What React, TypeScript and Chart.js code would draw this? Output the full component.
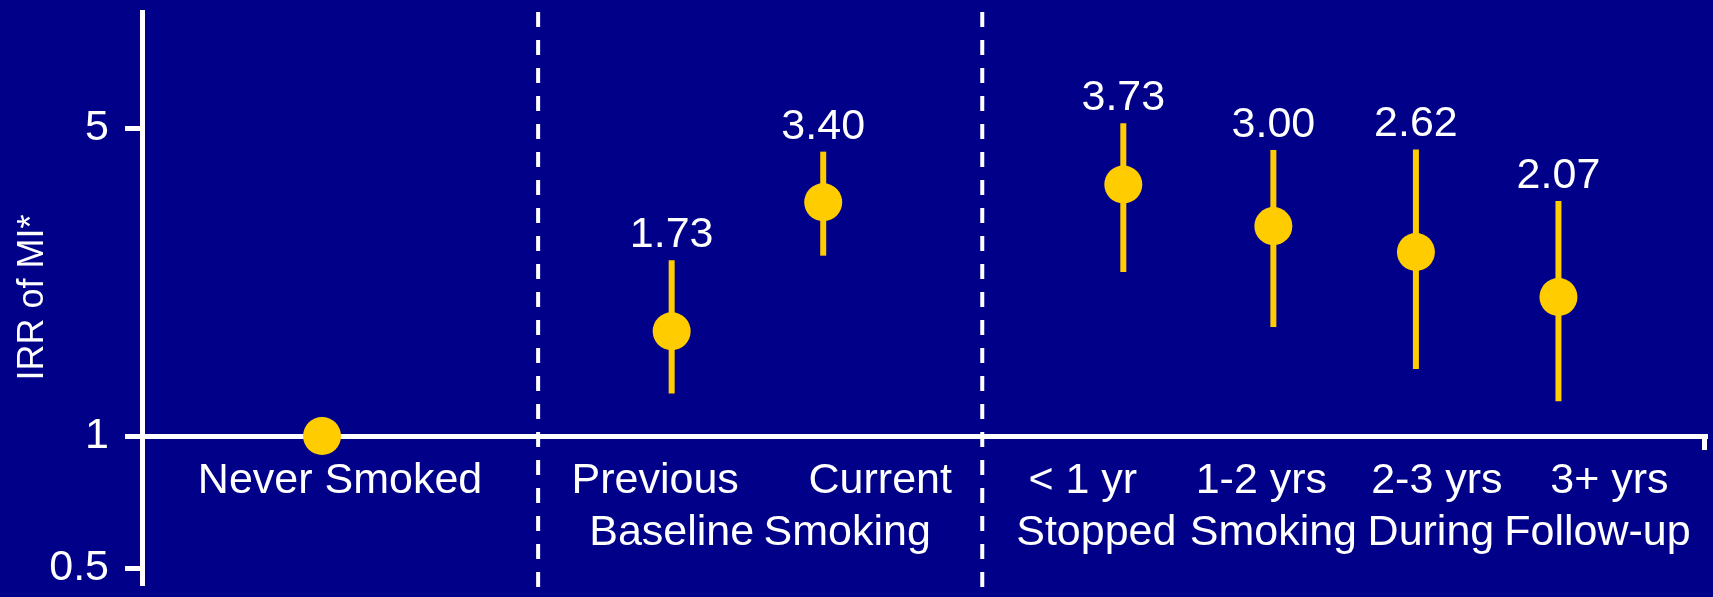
import React, { useEffect, useRef } from "react";
import { Chart, registerables } from "chart.js";

Chart.register(...registerables);

// ---- data ----
const categories = ["Never Smoked", "Previous", "Current", "< 1 yr", "1-2 yrs", "2-3 yrs", "3+ yrs"];
const groupLabels = ["", "Baseline", "Smoking", "Stopped", "Smoking", "During", "Follow-up"];
const irr = [1, 1.73, 3.4, 3.73, 3.0, 2.62, 2.07];
const ciLow: (number | null)[] = [null, 1.25, 2.57, 2.36, 1.77, 1.42, 1.2];
const ciHigh: (number | null)[] = [null, 2.51, 4.43, 5.14, 4.47, 4.48, 3.42];
const valueLabels = ["", "1.73", "3.40", "3.73", "3.00", "2.62", "2.07"];
// positions of each group along the horizontal axis (axis units)
const xPositions = [1.2, 3.53, 4.54, 6.54, 7.54, 8.49, 9.44];
const labelPositions = [1.32, 3.42, 4.92, 6.27, 7.46, 8.63, 9.78];
const groupLabelPositions = [1.32, 3.53, 4.7, 6.36, 7.54, 8.59, 9.7];
const separators = [2.64, 5.6];
const yTicks = [0.5, 1, 5];
const yTickLabels = ["0.5", "1", "5"];

const BG = "#000088";
const YELLOW = "#FFCC00";
const WHITE = "#FFFFFF";
const FONT = 'Arial, "Liberation Sans", Helvetica, sans-serif';
const LABEL_SIZE = 43;

const zeroPad = (s: any) => {
  s.paddingTop = 0;
  s.paddingBottom = 0;
  s.paddingLeft = 0;
  s.paddingRight = 0;
};

const overlayPlugin = {
  id: "overlay",
  beforeDatasetsDraw(chart: any) {
    const { ctx, chartArea, scales } = chart;
    const x = scales.x;
    const y = scales.y;
    ctx.save();
    // dashed separators
    ctx.strokeStyle = WHITE;
    ctx.lineWidth = 4;
    ctx.setLineDash([15, 13]);
    separators.forEach((s) => {
      const px = x.getPixelForValue(s);
      ctx.beginPath();
      ctx.moveTo(px, chartArea.top);
      ctx.lineTo(px, chart.height - 4);
      ctx.stroke();
    });
    ctx.setLineDash([]);
    // end tick on horizontal axis
    const axisY = y.getPixelForValue(1);
    ctx.lineWidth = 5;
    ctx.beginPath();
    ctx.moveTo(chartArea.right - 2.5, axisY);
    ctx.lineTo(chartArea.right - 2.5, axisY + 14);
    ctx.stroke();
    // error bars
    ctx.strokeStyle = YELLOW;
    ctx.lineWidth = 6;
    irr.forEach((_, i) => {
      const lo = ciLow[i];
      const hi = ciHigh[i];
      if (lo == null || hi == null) return;
      const px = x.getPixelForValue(xPositions[i]);
      ctx.beginPath();
      ctx.moveTo(px, y.getPixelForValue(hi));
      ctx.lineTo(px, y.getPixelForValue(lo));
      ctx.stroke();
    });
    ctx.restore();
  },
  afterDatasetsDraw(chart: any) {
    const { ctx, scales } = chart;
    const x = scales.x;
    const y = scales.y;
    ctx.save();
    ctx.fillStyle = WHITE;
    ctx.font = `${LABEL_SIZE}px ${FONT}`;
    ctx.textAlign = "center";
    ctx.textBaseline = "alphabetic";
    irr.forEach((_, i) => {
      const hi = ciHigh[i];
      if (hi == null || !valueLabels[i]) return;
      ctx.fillText(valueLabels[i], x.getPixelForValue(xPositions[i]), y.getPixelForValue(hi) - 13);
    });
    ctx.restore();
  },
};

export default function App() {
  const ref = useRef<HTMLCanvasElement>(null);

  useEffect(() => {
    if (!ref.current) return;
    Chart.defaults.font.family = FONT;
    const chart = new Chart(ref.current, {
      type: "scatter",
      data: {
        datasets: [
          {
            data: xPositions.map((xv, i) => ({ x: xv, y: irr[i] })),
            backgroundColor: YELLOW,
            borderColor: YELLOW,
            borderWidth: 0,
            pointRadius: 19,
            pointHoverRadius: 19,
            clip: false,
          },
        ],
      },
      options: {
        responsive: false,
        animation: false,
        layout: { autoPadding: false, padding: { top: 12, bottom: 14, left: 0, right: 6 } },
        plugins: { legend: { display: false }, tooltip: { enabled: false } },
        scales: {
          y: {
            type: "logarithmic",
            position: "left",
            min: 0.4634,
            max: 9.2,
            afterFit: (s: any) => {
              s.width = 142;
              zeroPad(s);
            },
            afterBuildTicks: (s: any) => {
              s.ticks = yTicks.map((v) => ({ value: v }));
            },
            ticks: {
              color: WHITE,
              font: { size: LABEL_SIZE },
              padding: 16,
              callback: (_v: any, i: number) => yTickLabels[i],
            },
            grid: {
              drawOnChartArea: false,
              drawTicks: true,
              tickLength: 17,
              color: WHITE,
              lineWidth: 5,
            },
            border: { display: true, color: WHITE, width: 5 },
            title: {
              display: true,
              text: "IRR of MI*",
              color: WHITE,
              font: { size: 36 },
              padding: { top: 11, bottom: 0 },
            },
          },
          x: {
            type: "linear",
            position: { y: 1 } as any,
            min: 0,
            max: 10.43,
            afterFit: zeroPad,
            afterBuildTicks: (s: any) => {
              s.ticks = labelPositions.map((v) => ({ value: v }));
            },
            ticks: {
              color: WHITE,
              font: { size: LABEL_SIZE },
              padding: 19,
              autoSkip: false,
              maxRotation: 0,
              minRotation: 0,
              callback: (_v: any, i: number) => categories[i],
            },
            grid: { display: true, drawOnChartArea: false, drawTicks: false },
            border: { display: true, color: WHITE, width: 5 },
          },
          x2: {
            type: "linear",
            axis: "x",
            position: { y: 1 } as any,
            min: 0,
            max: 10.43,
            afterFit: zeroPad,
            afterBuildTicks: (s: any) => {
              s.ticks = groupLabelPositions.map((v) => ({ value: v }));
            },
            ticks: {
              color: WHITE,
              font: { size: LABEL_SIZE },
              padding: 71,
              autoSkip: false,
              maxRotation: 0,
              minRotation: 0,
              callback: (_v: any, i: number) => groupLabels[i],
            },
            grid: { display: false, drawOnChartArea: false, drawTicks: false },
            border: { display: false },
          },
        },
      } as any,
      plugins: [overlayPlugin],
    });
    return () => chart.destroy();
  }, []);

  return (
    <div style={{ position: "fixed", left: 0, top: 0, width: 1713, height: 597, background: BG }}>
      <canvas ref={ref} width={1713} height={597} style={{ display: "block" }} />
    </div>
  );
}
